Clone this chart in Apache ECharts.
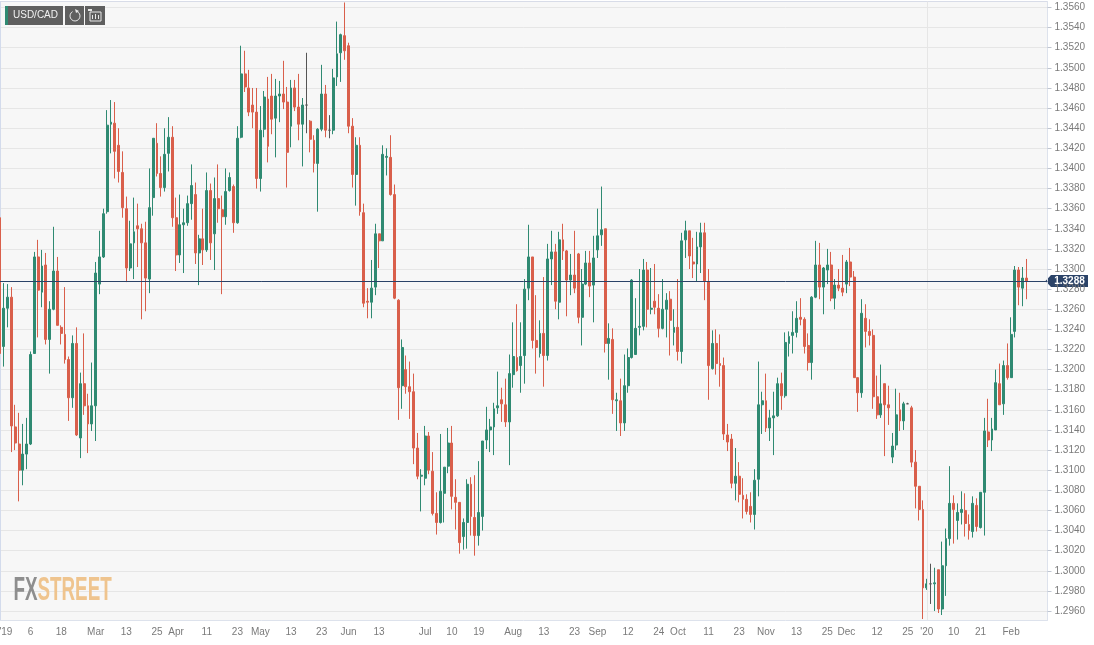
<!DOCTYPE html>
<html><head><meta charset="utf-8">
<style>html,body{margin:0;padding:0;background:#fff}#c{width:1094px;height:645px}</style>
<script src="https://cdn.jsdelivr.net/npm/echarts@6/dist/echarts.min.js"></script>
</head><body><div id="c"></div>
<script>
const pair = "USD/CAD";
const lastPrice = 13288;
const priceScale = 10000;
const opens = [
13351,13223,13261,13272,13143,13126,13100,13116,13126,13216,
13312,13277,13304,13230,13260,13298,13242,13235,13210,13172,
13226,13132,13186,13164,13146,13164,13285,13312,13357,13444,
13445,13423,13396,13360,13301,13326,13343,13340,13326,13290,
13371,13425,13395,13381,13415,13431,13351,13314,13344,13346,
13365,13374,13316,13330,13319,13378,13335,13370,13359,13352,
13378,13382,13346,13431,13494,13480,13463,13456,13390,13439,
13469,13472,13450,13472,13474,13466,13442,13480,13461,13444,
13463,13447,13428,13405,13439,13474,13438,13438,13491,13515,
13532,13522,13442,13394,13423,13356,13268,13267,13282,13335,
13328,13411,13411,13374,13269,13184,13200,13183,13178,13122,
13094,13092,13134,13099,13057,13048,13077,13104,13127,13073,
13068,13034,13048,13086,13053,13035,13054,13130,13140,13143,
13162,13170,13165,13148,13195,13212,13204,13214,13281,13312,
13229,13216,13236,13214,13310,13317,13267,13329,13318,13289,
13294,13315,13252,13285,13306,13284,13319,13334,13340,13226,
13230,13169,13169,13147,13184,13212,13215,13242,13243,13299,
13260,13268,13261,13241,13260,13270,13237,13242,13218,13329,
13338,13307,13305,13322,13336,13287,13201,13226,13206,13204,
13135,13131,13087,13094,13075,13071,13064,13056,13091,13165,
13169,13142,13152,13154,13186,13174,13226,13234,13237,13252,
13250,13224,13207,13272,13304,13282,13299,13304,13271,13284,
13281,13285,13307,13292,13192,13177,13251,13238,13234,13173,
13155,13186,13165,13113,13125,13160,13149,13166,13162,13108,
13084,13061,12983,12987,12987,13001,12962,13005,13032,13067,
13050,13058,13060,13046,13039,13065,13043,13078,13138,13130,
13140,13186,13166,13204,13192,13238,13299,13281,13291];
const closes = [
13216,13261,13272,13144,13127,13100,13116,13126,13215,13312,
13279,13303,13230,13260,13298,13244,13236,13210,13172,13226,
13135,13186,13164,13146,13164,13296,13312,13355,13443,13446,
13417,13397,13361,13301,13325,13337,13340,13326,13291,13361,
13430,13395,13381,13414,13431,13351,13314,13344,13346,13365,
13383,13316,13330,13319,13378,13326,13370,13360,13352,13377,
13391,13346,13430,13494,13481,13456,13456,13390,13438,13471,
13422,13449,13472,13474,13466,13416,13480,13461,13444,13463,
13463,13429,13405,13439,13474,13438,13438,13490,13514,13533,
13517,13442,13394,13423,13357,13266,13267,13281,13335,13328,
13414,13412,13374,13271,13182,13222,13183,13178,13122,13094,
13095,13134,13100,13057,13048,13079,13103,13127,13074,13068,
13028,13048,13086,13054,13035,13058,13129,13140,13143,13161,
13164,13166,13148,13196,13213,13199,13213,13280,13312,13229,
13222,13236,13214,13310,13317,13268,13329,13318,13289,13294,
13281,13252,13285,13306,13283,13311,13333,13339,13226,13231,
13170,13170,13147,13184,13212,13289,13241,13243,13299,13260,
13261,13262,13241,13260,13269,13249,13242,13218,13328,13338,
13313,13305,13322,13336,13288,13204,13226,13206,13204,13136,
13128,13087,13094,13076,13071,13059,13056,13090,13165,13169,
13142,13152,13154,13186,13174,13227,13233,13237,13251,13250,
13223,13207,13272,13304,13282,13301,13304,13271,13284,13281,
13277,13307,13292,13192,13177,13256,13238,13234,13173,13155,
13166,13165,13162,13124,13155,13149,13166,13166,13108,13084,
13061,12983,12987,12987,12988,12962,13005,13032,13067,13061,
13058,13061,13047,13040,13067,13044,13078,13139,13130,13141,
13187,13165,13204,13192,13235,13299,13282,13291,13288];
const highs = [
13357,13286,13285,13282,13165,13157,13146,13152,13218,13317,
13329,13319,13316,13268,13342,13312,13244,13282,13213,13234,
13242,13197,13236,13176,13207,13307,13338,13360,13458,13468,
13466,13440,13417,13372,13348,13371,13365,13345,13347,13400,
13430,13445,13412,13440,13451,13442,13371,13374,13360,13373,
13404,13386,13334,13360,13396,13385,13391,13404,13373,13400,
13396,13384,13442,13522,13517,13498,13480,13480,13462,13477,
13491,13494,13489,13487,13507,13481,13488,13488,13494,13470,
13515,13448,13433,13440,13503,13483,13453,13499,13546,13534,
13565,13525,13450,13431,13431,13365,13281,13309,13345,13335,
13423,13420,13433,13384,13270,13230,13214,13208,13196,13137,
13101,13144,13138,13118,13078,13136,13103,13142,13144,13091,
13068,13052,13091,13093,13095,13109,13129,13163,13151,13167,
13198,13182,13191,13215,13247,13265,13247,13290,13344,13312,
13274,13249,13292,13325,13338,13325,13337,13345,13319,13315,
13338,13316,13300,13318,13318,13333,13360,13382,13340,13246,
13241,13177,13191,13215,13221,13290,13271,13300,13310,13307,
13301,13305,13275,13290,13276,13278,13260,13290,13336,13348,
13338,13331,13337,13346,13346,13300,13239,13240,13235,13212,
13146,13136,13122,13108,13092,13076,13078,13101,13208,13178,
13196,13160,13178,13192,13197,13237,13238,13258,13268,13271,
13252,13236,13273,13328,13326,13302,13320,13317,13290,13300,
13314,13309,13321,13298,13192,13270,13265,13250,13240,13194,
13205,13186,13184,13137,13181,13177,13168,13167,13164,13120,
13084,13070,12992,13007,13003,13001,13029,13042,13104,13075,
13067,13079,13077,13056,13074,13072,13078,13152,13171,13152,
13200,13206,13209,13226,13252,13303,13302,13302,13310];
const lows = [
13214,13203,13242,13118,13120,13069,13085,13101,13125,13216,
13232,13262,13225,13196,13259,13244,13225,13206,13149,13162,
13134,13112,13155,13117,13139,13129,13275,13311,13355,13415,
13390,13386,13351,13287,13298,13290,13302,13250,13258,13276,
13353,13392,13372,13377,13397,13342,13298,13306,13296,13343,
13349,13305,13284,13304,13317,13309,13299,13346,13275,13344,
13377,13336,13345,13430,13476,13452,13440,13380,13377,13431,
13406,13434,13411,13446,13459,13381,13421,13457,13428,13402,
13435,13416,13396,13357,13437,13431,13430,13434,13482,13486,
13508,13435,13381,13363,13353,13262,13251,13251,13274,13301,
13328,13393,13373,13270,13150,13161,13176,13151,13106,13091,
13059,13085,13096,13055,13036,13047,13048,13097,13061,13041,
13017,13021,13022,13035,13015,13025,13040,13121,13118,13115,
13156,13148,13143,13105,13182,13198,13177,13186,13269,13221,
13196,13212,13183,13209,13284,13260,13250,13309,13253,13274,
13276,13246,13224,13284,13272,13247,13311,13323,13217,13190,
13156,13139,13134,13139,13177,13211,13215,13234,13239,13242,
13255,13255,13232,13240,13232,13214,13224,13209,13206,13311,
13300,13291,13288,13296,13269,13170,13200,13195,13183,13130,
13119,13082,13070,13068,13052,13056,13048,13041,13074,13136,
13138,13129,13115,13153,13160,13172,13213,13216,13232,13244,
13216,13199,13190,13271,13270,13255,13285,13268,13260,13278,
13273,13276,13283,13192,13158,13172,13222,13224,13161,13151,
13152,13114,13145,13107,13120,13139,13140,13166,13103,13062,
13050,12952,12981,12967,12960,12958,12956,12975,13025,13027,
13031,13046,13034,13031,13033,13039,13042,13035,13123,13119,
13140,13165,13155,13190,13192,13232,13264,13263,13270];
const dojis = [80,86,237];
const tickSlots = [0,8,16,25,33,41,46,54,62,68,76,84,91,99,111,118,125,134,142,150,156,164,172,177,185,193,200,208,216,221,229,237,242,249,256,264];
const tickLabels = ["'19","6","18","Mar","13","25","Apr","11","23","May","13","23","Jun","13","Jul","10","19","Aug","13","23","Sep","12","24","Oct","11","23","Nov","13","25","Dec","12","25","'20","10","21","Feb"];
const priceTicks = [12960,12980,13000,13020,13040,13060,13080,13100,13120,13140,13160,13180,13200,13220,13240,13260,13280,13300,13320,13340,13360,13380,13400,13420,13440,13460,13480,13500,13520,13540,13560];
const yearMarkSlot = 242;
const slotCount = 274;
const axisMin = 12951.05, axisMax = 13565.97;

const labelBySlot = {};
tickSlots.forEach((s,i)=>labelBySlot[s]=tickLabels[i]);
const cats = Array.from({length:slotCount},(_,i)=>String(i));
const rows = opens.map((o,i)=>{
  const c = dojis.includes(i) ? o : closes[i];
  return [o/priceScale,c/priceScale,lows[i]/priceScale,highs[i]/priceScale];
});
const isTick = (i)=>labelBySlot[i]!==undefined;
const GREEN='#2F8A72', RED='#D95F4B', NAVY='#2B4368', AXIS='#DDE2EC', GRAY='#7A7A7A';
const gridRight = 1047.5, gridLeft=-2, gridTop=1.5, gridBottom=620;
const logoFont='bold 33px "Liberation Sans",Arial,sans-serif';

const chart = echarts.init(document.getElementById('c'),null,{renderer:'canvas'});
chart.setOption({
  animation:false,
  backgroundColor:'#ffffff',
  textStyle:{fontFamily:'"Liberation Sans",Arial,sans-serif'},
  grid:{show:true,backgroundColor:'#F7F7F7',borderWidth:0,outerBoundsMode:'none',containLabel:false,left:gridLeft,top:gridTop,width:gridRight-gridLeft,height:gridBottom-gridTop},
  xAxis:{type:'category',data:cats,boundaryGap:true,
    axisLine:{lineStyle:{color:AXIS,width:1}},
    axisTick:{alignWithLabel:true,length:4,interval:(i)=>isTick(i),lineStyle:{color:'#C9CED8'}},
    axisLabel:{interval:(i)=>isTick(i),margin:7,color:GRAY,fontSize:10,hideOverlap:false,
      formatter:(v,i)=>{const t=labelBySlot[+v]; if(t===undefined) return ''; return +v===0?'{a|'+t+'}':t;},
      rich:{a:{padding:[0,0,0,12],color:GRAY,fontSize:10}}},
    splitLine:{show:false}
  },
  yAxis:{type:'value',position:'right',min:axisMin/priceScale,max:axisMax/priceScale,scale:true,
    axisLine:{show:true,lineStyle:{color:AXIS,width:1}},
    axisTick:{show:true,length:4,customValues:priceTicks.map(v=>v/priceScale),lineStyle:{color:'#BFC5D0'}},
    axisLabel:{margin:7,color:GRAY,fontSize:10,customValues:priceTicks.map(v=>v/priceScale),formatter:(v)=>v.toFixed(4)},
    splitLine:{show:true,lineStyle:{color:'#E6E6E6',width:1}}
  },
  series:[{type:'candlestick',data:rows,barWidth:2.4,clip:true,
    itemStyle:{color:GREEN,color0:RED,borderColor:GREEN,borderColor0:RED,borderColorDoji:'#555555',borderWidth:1},
    markLine:{silent:true,symbol:'none',animation:false,precision:6,label:{show:false},
      data:[
        {xAxis:String(yearMarkSlot),lineStyle:{color:'#E6E6E6',width:1,type:'solid'}},
        {yAxis:lastPrice/priceScale,lineStyle:{color:NAVY,width:1,type:'solid'}}
      ]}
  }]
});
const py = chart.convertToPixel({yAxisIndex:0},lastPrice/priceScale);
const barColor='#5F5F5F';
chart.setOption({graphic:[
  {type:'rect',silent:true,shape:{x:0,y:1,width:gridRight,height:1},style:{fill:'#D8DCE8'}},
  {type:'rect',silent:true,shape:{x:0,y:1,width:1,height:619},style:{fill:'#D3DBEC'}},
  {type:'polygon',silent:true,shape:{points:[[1045.5,py],[1051,py-6],[1088,py-6],[1088,py+6],[1051,py+6]]},style:{fill:NAVY}},
  {type:'text',silent:true,style:{x:1069.5,y:py,text:(lastPrice/priceScale).toFixed(4),fill:'#fff',font:'bold 10px "Liberation Sans",Arial,sans-serif',align:'center',verticalAlign:'middle'}},
  {type:'rect',silent:true,shape:{x:5,y:6,width:58,height:19},style:{fill:barColor}},
  {type:'rect',silent:true,shape:{x:5,y:6,width:3,height:19},style:{fill:GREEN}},
  {type:'text',silent:true,style:{x:13,y:15.5,text:pair,fill:'#F2F2F2',font:'10px "Liberation Sans",Arial,sans-serif',verticalAlign:'middle'}},
  {type:'rect',silent:true,shape:{x:65,y:6,width:19,height:19},style:{fill:barColor}},
  {type:'rect',silent:true,shape:{x:85,y:6,width:20,height:19},style:{fill:barColor}},
  {type:'arc',silent:true,shape:{cx:75,cy:16,r:5,startAngle:-1.2,endAngle:4.2,clockwise:true},style:{stroke:'#E8E8E8',fill:'none',lineWidth:1}},
  {type:'polygon',silent:true,shape:{points:[[75,9],[79,11],[76,13]]},style:{fill:'#E8E8E8'}},
  {type:'polyline',silent:true,shape:{points:[[90,12],[101,12],[101,21],[90,21],[90,12]]},style:{stroke:'#E8E8E8',fill:'none',lineWidth:1}},
  {type:'rect',silent:true,shape:{x:92,y:15,width:1,height:4},style:{fill:'#E8E8E8'}},
  {type:'rect',silent:true,shape:{x:95,y:14,width:1,height:5},style:{fill:'#E8E8E8'}},
  {type:'rect',silent:true,shape:{x:98,y:15,width:1,height:4},style:{fill:'#E8E8E8'}},
  {type:'rect',silent:true,shape:{x:88,y:9,width:4,height:2},style:{fill:'#E8E8E8'}},
  {type:'text',silent:true,x:13.5,y:590.5,scaleX:0.57,style:{x:0,y:0,text:'FX',fill:'#8E8E8E',font:logoFont,verticalAlign:'middle'}},
  {type:'text',silent:true,x:37.5,y:590.5,scaleX:0.57,style:{x:0,y:0,text:'STREET',fill:'#EFC48E',font:logoFont,verticalAlign:'middle'}}
]});
</script></body></html>
